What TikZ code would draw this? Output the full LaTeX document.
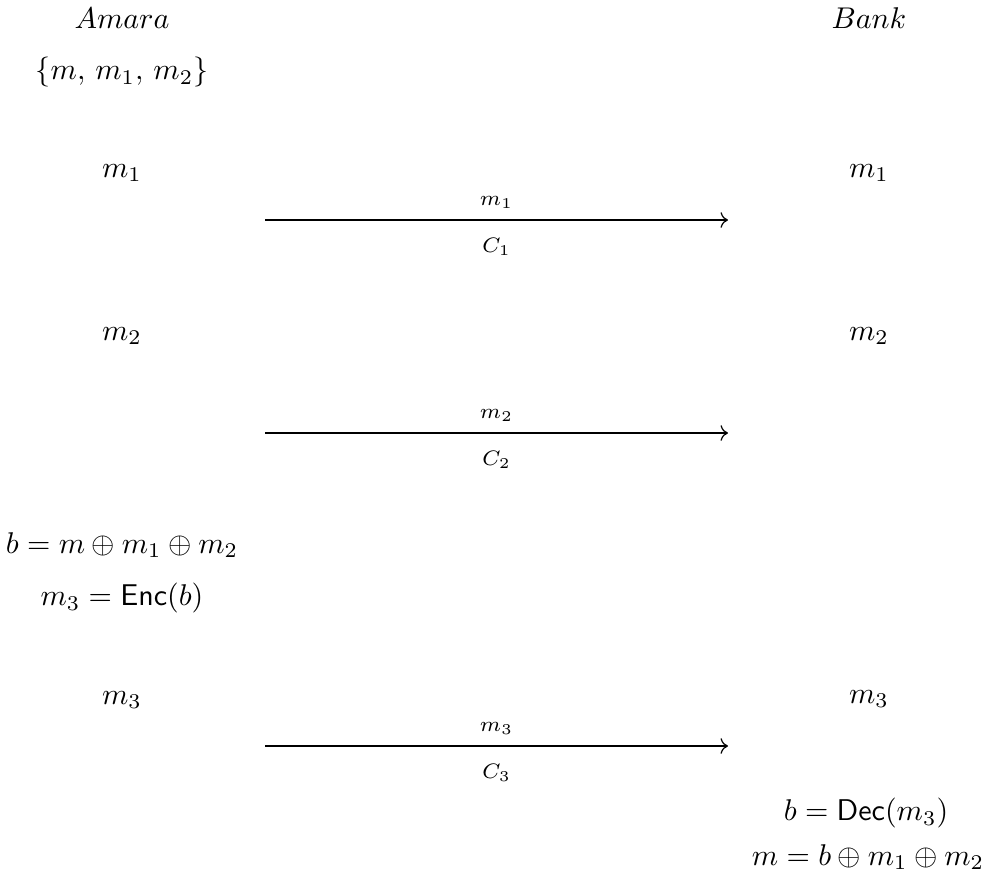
\documentclass[tikz,border=0pt]{standalone}
\usetikzlibrary{arrows.meta}
\begin{document}
\begin{tikzpicture}[x=0.3333pt,y=-0.3333pt,
  lbl/.style={inner sep=0pt,font=\normalsize},
  msg/.style={->,line width=0.4pt},
  small/.style={inner sep=0pt,font=\scriptsize}]
\useasboundingbox (0,0) rectangle (987,880);
% parties
\node[lbl] (amara) at (122,18) {$Amara$};
\node[lbl] (bank) at (869,18) {$Bank$};
\node[lbl] (set) at (122,72) {$\{m,\,m_1,\,m_2\}$};
% round 1
\node[lbl] (l1) at (122,173) {$m_1$};
\node[lbl] (r1) at (869,173) {$m_1$};
\coordinate (s1) at (265,220);
\coordinate (e1) at (728,220);
\draw[msg] (s1) -- (e1)
  node[small,midway,above=3.5pt] (t1) {$m_1$}
  node[small,midway,below=6pt] (c1) {$C_1$};
% round 2
\node[lbl] (l2) at (122,336) {$m_2$};
\node[lbl] (r2) at (869,336) {$m_2$};
\coordinate (s2) at (265,433);
\coordinate (e2) at (728,433);
\draw[msg] (s2) -- (e2)
  node[small,midway,above=3.5pt] (t2) {$m_2$}
  node[small,midway,below=6pt] (c2) {$C_2$};
% computation
\node[lbl] (bx) at (122,545) {$b = m \oplus m_1 \oplus m_2$};
\node[lbl] (enc) at (122,598) {$m_3 = \mathsf{Enc}(b)$};
% round 3
\node[lbl] (l3) at (122,700) {$m_3$};
\node[lbl] (r3) at (869,699) {$m_3$};
\coordinate (s3) at (265,746);
\coordinate (e3) at (728,746);
\draw[msg] (s3) -- (e3)
  node[small,midway,above=3.5pt] (t3) {$m_3$}
  node[small,midway,below=6pt] (c3) {$C_3$};
\node[lbl] (dec) at (866,813) {$b = \mathsf{Dec}(m_3)$};
\node[lbl] (rec) at (868,857) {$m = b \oplus m_1 \oplus m_2$};
\end{tikzpicture}
\end{document}
